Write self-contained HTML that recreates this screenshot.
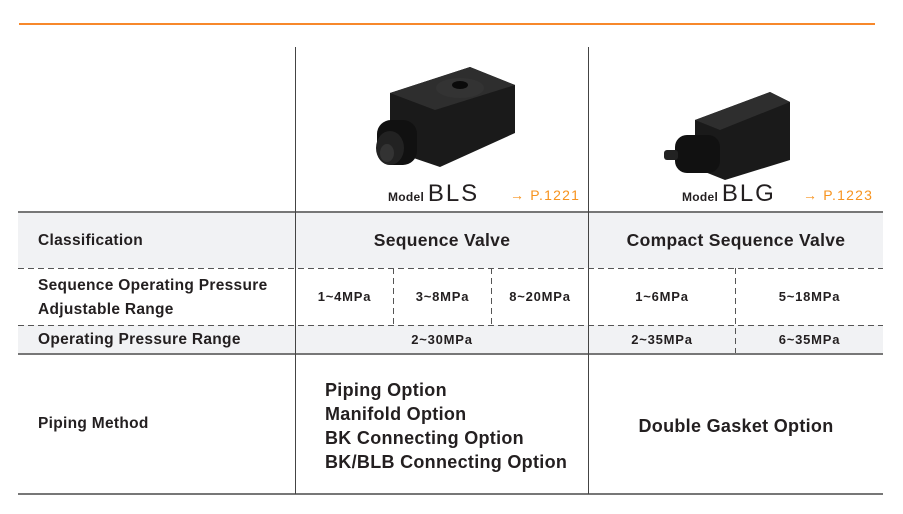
<!DOCTYPE html>
<html><head><meta charset="utf-8"><style>
*{margin:0;padding:0;box-sizing:border-box}
body{width:903px;height:514px;background:#fff;position:relative;overflow:hidden;font-family:"Liberation Sans",sans-serif;color:#231f20}
.a{position:absolute}
.t{position:absolute;white-space:nowrap;font-size:15.5px;font-weight:bold;letter-spacing:0.3px}
.c{text-align:center}
.s{font-size:13px;font-weight:bold;letter-spacing:0.8px}
.or{color:#f7931e;font-weight:normal;font-size:14px;letter-spacing:1.2px}
</style></head><body>
<div class="a" style="left:19px;top:23px;width:856px;height:2px;background:#f7882b"></div>
<div class="a" style="left:18px;top:212px;width:865px;height:56px;background:#f1f2f4"></div>
<div class="a" style="left:18px;top:325px;width:865px;height:28px;background:#f1f2f4"></div>
<svg class="a" style="left:0;top:0" width="903" height="514">
<g stroke="#555" stroke-width="1" stroke-dasharray="6,4" fill="none">
<line x1="18" y1="268.5" x2="883" y2="268.5"/>
<line x1="18" y1="325.5" x2="883" y2="325.5"/>
<line x1="393.5" y1="268" x2="393.5" y2="325"/>
<line x1="491.5" y1="268" x2="491.5" y2="325"/>
<line x1="735.5" y1="268" x2="735.5" y2="353"/>
</g>
</svg>
<div class="a" style="left:18px;top:211px;width:865px;height:2px;background:#777"></div>
<div class="a" style="left:18px;top:353px;width:865px;height:2px;background:#777"></div>
<div class="a" style="left:18px;top:493px;width:865px;height:2px;background:#777"></div>
<div class="a" style="left:295px;top:47px;width:1px;height:447px;background:#444"></div>
<div class="a" style="left:588px;top:47px;width:1px;height:447px;background:#444"></div>

<svg class="a" style="left:365px;top:55px" width="160" height="115" viewBox="0 0 160 115">
<polygon points="25,38 105,12 150,30 150,78 75,112 25,95" fill="#1a1a1a"/>
<polygon points="25,38 105,12 150,30 70,55" fill="#2e2e2e"/>
<ellipse cx="95" cy="33" rx="24" ry="10" fill="#333"/>
<ellipse cx="95" cy="30" rx="8" ry="4" fill="#0a0a0a"/>
<rect x="12" y="65" width="40" height="45" rx="14" fill="#111"/>
<ellipse cx="25" cy="93" rx="14" ry="17" fill="#222"/>
<ellipse cx="22" cy="98" rx="7" ry="9" fill="#333"/>
</svg>
<svg class="a" style="left:660px;top:80px" width="140" height="100" viewBox="0 0 140 100">
<polygon points="35,40 110,12 130,22 130,80 65,100 35,88" fill="#1a1a1a"/>
<polygon points="35,40 110,12 130,22 60,50" fill="#2e2e2e"/>
<rect x="15" y="55" width="45" height="38" rx="12" fill="#111"/>
<rect x="4" y="70" width="14" height="10" rx="3" fill="#222"/>
</svg>

<div class="t" style="left:388px;top:180px;font-size:12px">Model <span style="font-size:24px;font-weight:normal;letter-spacing:2px">BLS</span></div>
<div class="t or" style="left:510px;top:187px">→ P.1221</div>
<div class="t" style="left:682px;top:180px;font-size:12px">Model <span style="font-size:24px;font-weight:normal;letter-spacing:2px">BLG</span></div>
<div class="t or" style="left:803px;top:187px">→ P.1223</div>

<div class="t" style="left:38px;top:232px">Classification</div>
<div class="t c" style="left:296px;width:292px;top:230px;font-size:17.5px">Sequence Valve</div>
<div class="t c" style="left:589px;width:294px;top:230px;font-size:17.5px">Compact Sequence Valve</div>

<div class="t" style="left:38px;top:274px;line-height:24px">Sequence Operating Pressure<br>Adjustable Range</div>
<div class="t s c" style="left:296px;width:97px;top:289px">1~4MPa</div>
<div class="t s c" style="left:394px;width:97px;top:289px">3~8MPa</div>
<div class="t s c" style="left:492px;width:96px;top:289px">8~20MPa</div>
<div class="t s c" style="left:589px;width:146px;top:289px">1~6MPa</div>
<div class="t s c" style="left:736px;width:147px;top:289px">5~18MPa</div>

<div class="t" style="left:38px;top:331px">Operating Pressure Range</div>
<div class="t s c" style="left:296px;width:292px;top:332px">2~30MPa</div>
<div class="t s c" style="left:589px;width:146px;top:332px">2~35MPa</div>
<div class="t s c" style="left:736px;width:147px;top:332px">6~35MPa</div>

<div class="t" style="left:38px;top:415px">Piping Method</div>
<div class="t" style="left:325px;top:378px;line-height:24px;font-size:18px">Piping Option<br>Manifold Option<br>BK Connecting Option<br>BK/BLB Connecting Option</div>
<div class="t c" style="left:589px;width:294px;top:416px;font-size:18px">Double Gasket Option</div>
</body></html>
